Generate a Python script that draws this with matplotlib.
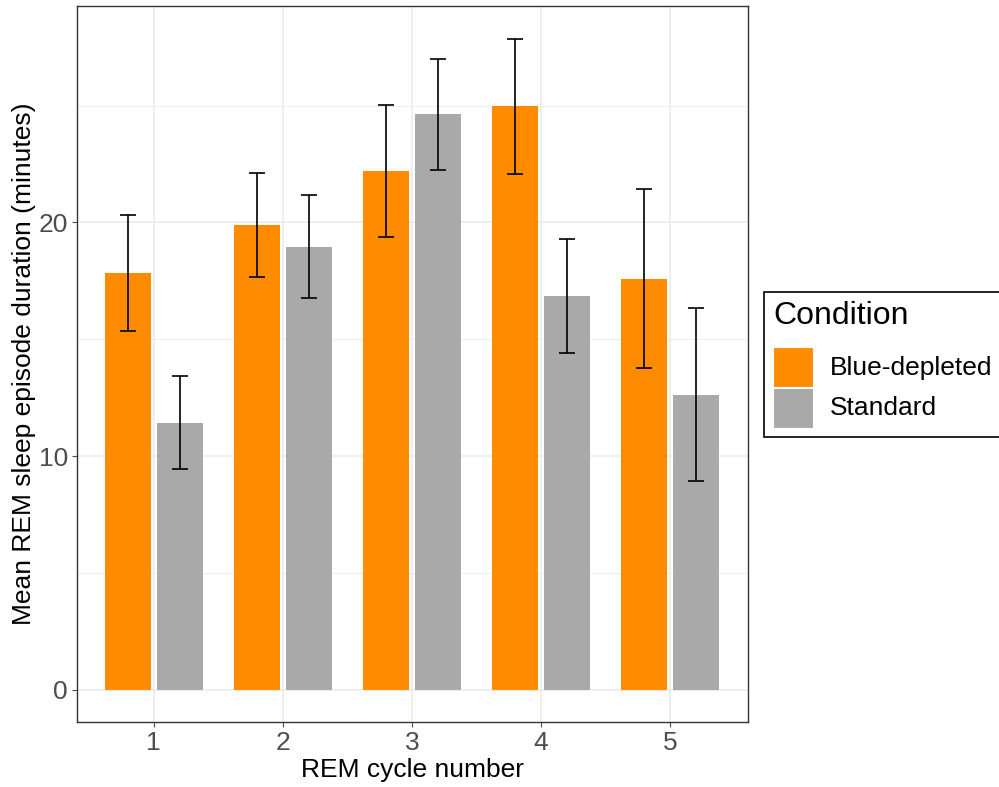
import matplotlib
matplotlib.use("Agg")
import matplotlib.pyplot as plt
from matplotlib.patches import Rectangle
import numpy as np

plt.rcParams['font.family'] = ['Liberation Sans', 'DejaVu Sans']

cycles = ["1", "2", "3", "4", "5"]
conditions = ["Blue-depleted", "Standard"]
colors = ["#FF8C00", "#A9A9A9"]

blue_mean = [17.84, 19.88, 22.20, 24.98, 17.58]
blue_lo = [15.34, 17.68, 19.36, 22.08, 13.76]
blue_hi = [20.30, 22.10, 25.02, 27.86, 21.43]

std_mean = [11.42, 18.95, 24.64, 16.85, 12.62]
std_lo = [9.45, 16.75, 22.25, 14.43, 8.94]
std_hi = [13.44, 21.16, 26.99, 19.30, 16.35]

means = [blue_mean, std_mean]
los = [blue_lo, std_lo]
his = [blue_hi, std_hi]

fig = plt.figure(figsize=(9.99, 7.87), dpi=100)
ax = fig.add_axes([77/999, 1-722/787, (747.7-77)/999, (722-6)/787])

x = np.arange(1, len(cycles) + 1)
offsets = [-0.2, 0.2]
width = 0.356
for i in range(2):
    xs = x + offsets[i]
    m = np.array(means[i]); lo = np.array(los[i]); hi = np.array(his[i])
    ax.bar(xs, m, width=width, color=colors[i], zorder=2, linewidth=0)
    ax.errorbar(xs, m, yerr=[m - lo, hi - m], fmt='none', ecolor='black',
                elinewidth=1.2, capsize=5.5, capthick=1.2, zorder=3)

ax.set_xlim(0.406, 5.6)
ax.set_ylim(-1.37, 29.26)
ax.set_xticks(x)
ax.set_xticklabels(cycles)
ax.set_yticks([0, 10, 20])
ax.set_yticks([5, 15, 25], minor=True)
ax.grid(True, which='major', color='#EBEBEB', linewidth=1.1, zorder=0)
ax.grid(True, which='minor', axis='y', color='#EBEBEB', linewidth=0.6, zorder=0)
ax.set_axisbelow(True)
ax.tick_params(axis='both', which='major', labelsize=19, colors='#4D4D4D',
               length=3.5, width=0.8, pad=3)
ax.tick_params(axis='y', which='minor', length=0)
for s in ax.spines.values():
    s.set_color('#333333')
    s.set_linewidth(1.0)

ax.set_xlabel("REM cycle number", fontsize=19, color='black', labelpad=2)
ax.set_ylabel("Mean REM sleep episode duration (minutes)", fontsize=19, color='black', labelpad=2)

# Legend (manual, ggplot style)
W, H = 999, 787
def fx(px): return px / W
def fy(py): return 1 - py / H
fig.patches.append(Rectangle((fx(763.5), fy(436.5)), fx(1010) - fx(763.5), fy(292) - fy(436.5),
                             transform=fig.transFigure, facecolor='white',
                             edgecolor='black', linewidth=1.2, clip_on=False))
fig.text(fx(773), fy(316), "Condition", fontsize=23, ha='left', va='center')
key_tops = [347, 387.5]
for i, name in enumerate(conditions):
    fig.patches.append(Rectangle((fx(773), fy(key_tops[i] + 40.3)), fx(813) - fx(773),
                                 fy(key_tops[i]) - fy(key_tops[i] + 40.3),
                                 transform=fig.transFigure, facecolor=colors[i],
                                 edgecolor='white', linewidth=0.8))
    fig.text(fx(830), fy(key_tops[i] + 20.5), name, fontsize=19, ha='left', va='center')

fig.savefig("out.png", dpi=100)
